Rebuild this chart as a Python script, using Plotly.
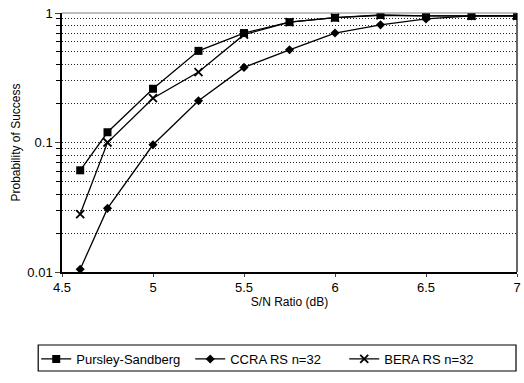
import plotly.graph_objects as go

snr = [4.6, 4.75, 5.0, 5.25, 5.5, 5.75, 6.0, 6.25, 6.5, 6.75, 7.0]
pursley = [0.061, 0.12, 0.26, 0.51, 0.70, 0.85, 0.92, 0.965, 0.95, 0.95, 0.95]
ccra = [0.0105, 0.031, 0.096, 0.21, 0.38, 0.52, 0.70, 0.81, 0.90, 0.95, 0.95]
bera = [0.028, 0.10, 0.22, 0.35, 0.68, 0.85, 0.92, 0.96, 0.95, 0.95, 0.95]

series_names = ["Pursley-Sandberg", "CCRA RS n=32", "BERA RS n=32"]
x_ticks = [4.5, 5, 5.5, 6, 6.5, 7]
y_ticks = [0.01, 0.1, 1]
y_tick_text = ["0.01", "0.1", "1"]

fig = go.Figure()
fig.add_trace(go.Scatter(x=snr, y=pursley, name=series_names[0], mode="lines+markers",
                         line=dict(color="black", width=1.3),
                         marker=dict(symbol="square", size=8, color="black")))
fig.add_trace(go.Scatter(x=snr, y=ccra, name=series_names[1], mode="lines+markers",
                         line=dict(color="black", width=1.3),
                         marker=dict(symbol="diamond", size=7, color="black")))
fig.add_trace(go.Scatter(x=snr, y=bera, name=series_names[2], mode="lines+markers",
                         line=dict(color="black", width=1.3),
                         marker=dict(symbol="x-thin-open", size=8, color="black",
                                     line=dict(color="black", width=1.8))))

grid_dash = "1px,2px"
W, H = 524, 383
ml, mr, mt, mb = 62, 3, 13, 111
pw, ph = W - ml - mr, H - mt - mb

def px_x(p):
    return (p - ml) / pw

def px_y(p):
    return (H - mb - p) / ph

fig.update_layout(
    width=W, height=H,
    margin=dict(l=ml, r=mr, t=mt, b=mb),
    paper_bgcolor="white", plot_bgcolor="white",
    font=dict(family="Liberation Sans, Arial, sans-serif", color="black", size=12),
    xaxis=dict(range=[4.5, 7], tickvals=x_ticks, ticks="outside", ticklen=3,
               showgrid=False, zeroline=False, showline=True, linecolor="black",
               linewidth=1.5, mirror=False, ticklabeloverflow="allow",
               title=dict(text="S/N Ratio (dB)", font=dict(size=12), standoff=0),
               tickfont=dict(size=13)),
    yaxis=dict(type="log", range=[-2, 0], tickvals=y_ticks, ticktext=y_tick_text,
               ticks="outside", ticklen=5, showline=True, linecolor="black",
               linewidth=1.5, showgrid=True, gridcolor="#222", griddash=grid_dash,
               gridwidth=1, zeroline=False,
               minor=dict(dtick="D1", ticks="outside", ticklen=4, showgrid=True,
                          gridcolor="#222", griddash=grid_dash, gridwidth=1, tickcolor="black"),
               title=dict(text="Probability of Success", font=dict(size=12), standoff=4),
               tickfont=dict(size=13)),
    legend=dict(orientation="h", x=px_x(36), xanchor="left", y=px_y(344), yanchor="top",
                borderwidth=0, font=dict(size=13),
                entrywidth=109, entrywidthmode="pixels", bgcolor="rgba(0,0,0,0)",
                itemwidth=30, tracegroupgap=0),
)
fig.add_shape(type="rect", xref="paper", yref="paper",
              x0=px_x(38), x1=px_x(520), y0=px_y(345), y1=px_y(371),
              line=dict(color="black", width=1.2))
fig.add_shape(type="line", xref="paper", yref="paper", x0=0, x1=1, y0=1, y1=1,
              line=dict(color="gray", width=1.2))
fig.add_shape(type="line", xref="paper", yref="paper", x0=1, x1=1, y0=0, y1=1,
              line=dict(color="black", width=1.2))

fig.write_html("out.html", config={"displayModeBar": False},
               post_script="document.body.style.margin='0';")
